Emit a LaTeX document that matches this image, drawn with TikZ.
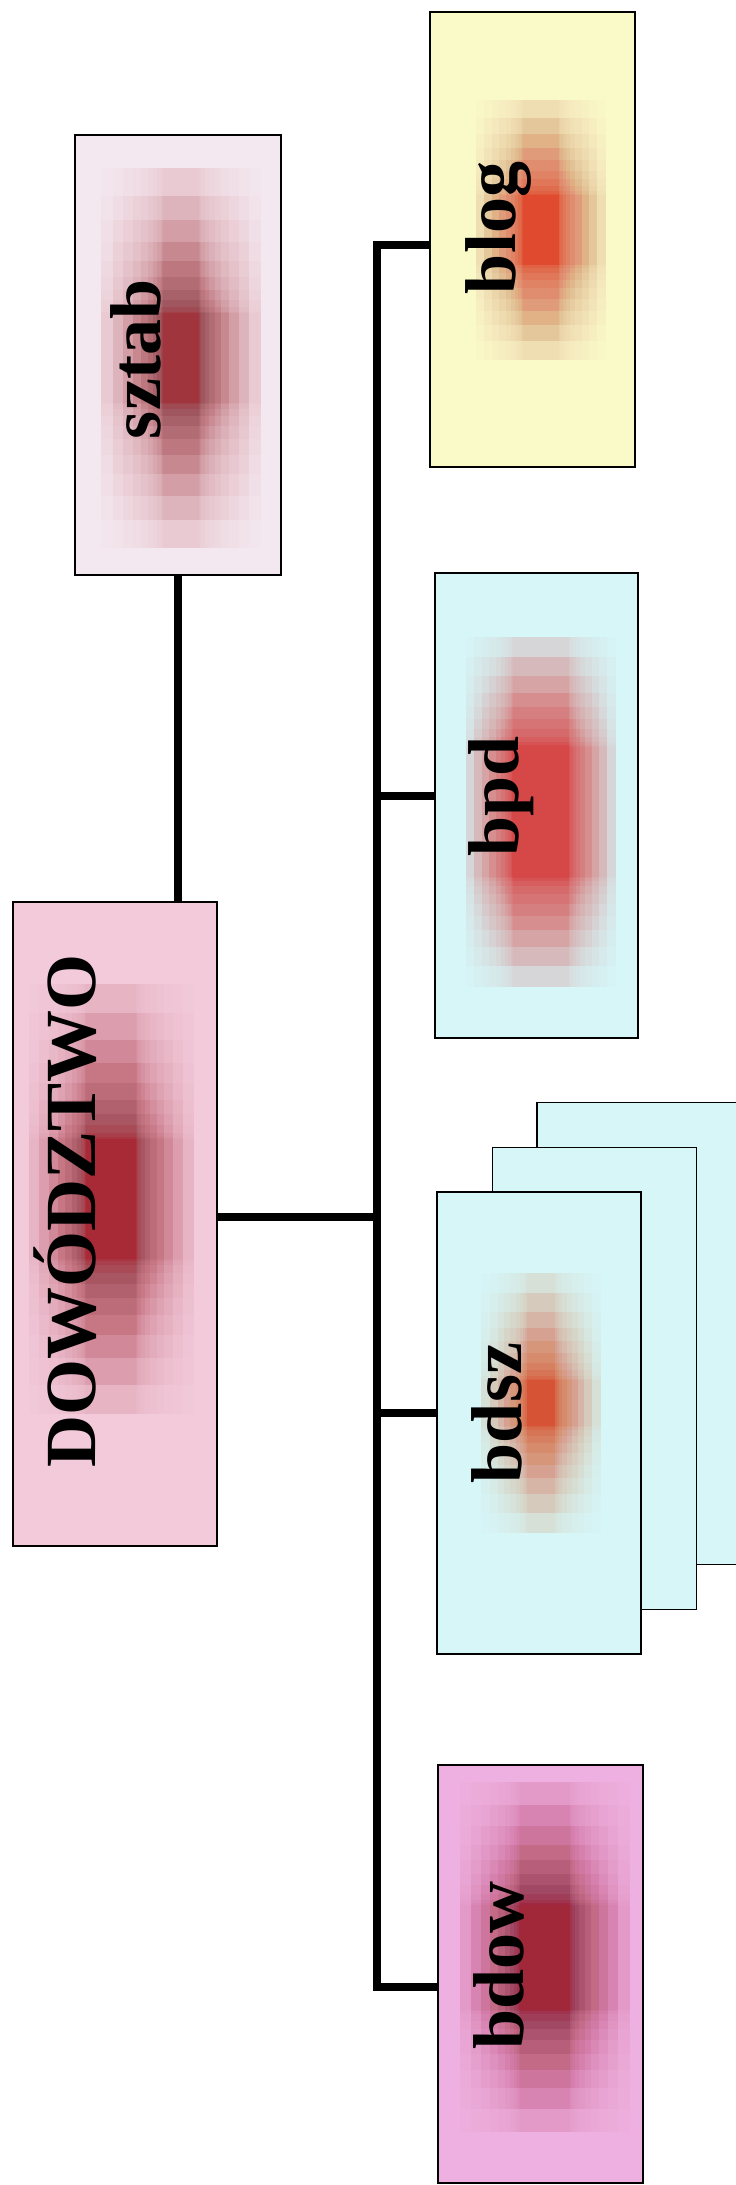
\documentclass[tikz,border=0pt]{standalone}
\usepackage{fontspec}
\setmainfont{Liberation Serif}
\usetikzlibrary{calc}

\definecolor{szOut}{HTML}{F4E8F0}
\definecolor{szIn}{HTML}{A02830}
\definecolor{blOut}{HTML}{FAFAC8}
\definecolor{blIn}{HTML}{E04030}
\definecolor{bpOut}{HTML}{D6F6F8}
\definecolor{bpIn}{HTML}{E84848}
\definecolor{dwOut}{HTML}{F2CADA}
\definecolor{dwIn}{HTML}{A82830}
\definecolor{bsIn}{HTML}{D85020}
\definecolor{bwOut}{HTML}{EEB0E0}
\definecolor{bwIn}{HTML}{A02830}

\tikzset{
  unit/.style={draw=black, line width=1.6pt, inner sep=0pt, outer sep=0pt},
  lbl/.style={rotate=90, anchor=base, inner sep=0pt, font=\fontsize{72}{80}\selectfont\bfseries},
  link/.style={line width=7.5pt, line join=miter},
}

% soft glow inside a box: node, colour, outer w/h, core w/h, offset x/y, opacity
\newcommand{\glow}[9]{%
  \foreach \i in {0,...,10}{
    \foreach \j in {0,...,10}{
      \pgfmathsetmacro{\gw}{#5+(#3-#5)*(\i/10)^2}
      \pgfmathsetmacro{\gh}{#6+(#4-#6)*(\j/10)^2}
      \fill[#2, fill opacity=#9] ($(#1.center)+(#7-\gw/2,#8-\gh/2)$) rectangle ($(#1.center)+(#7+\gw/2,#8+\gh/2)$);
    }}}

\begin{document}
\begin{tikzpicture}[x=1pt, y=-1pt]
  \clip (0,0) rectangle (736,2185);
  \fill[white] (0,0) rectangle (736,2185);

  % boxes
  \node[unit, fill=szOut, minimum width=206pt, minimum height=440pt] (sztab) at (178,355) {};
  \node[unit, fill=blOut, minimum width=205pt, minimum height=455pt] (blog) at (532.5,239.5) {};
  \node[unit, fill=bpOut, minimum width=203pt, minimum height=465pt] (bpd) at (536.5,805.5) {};
  \node[unit, fill=dwOut, minimum width=204pt, minimum height=644pt] (dow) at (115,1224) {};
  \node[unit, fill=bpOut, minimum width=204pt, minimum height=462pt] (bdsz3) at (639,1333.5) {};
  \node[unit, fill=bpOut, minimum width=204pt, minimum height=462pt] (bdsz2) at (594.5,1378.5) {};
  \node[unit, fill=bpOut, minimum width=204pt, minimum height=462pt] (bdsz) at (539,1423) {};
  \node[unit, fill=bwOut, minimum width=205pt, minimum height=418pt] (bdow) at (540.5,1974) {};

  \glow{sztab}{szIn}{160}{380}{36}{90}{3}{3}{0.013}
  \glow{blog}{blIn}{130}{260}{36}{70}{8}{-10}{0.013}
  \glow{bpd}{white}{180}{410}{110}{300}{4}{6}{0.012}
  \glow{bpd}{bpIn}{150}{350}{56}{130}{4}{6}{0.015}
  \glow{dow}{dwIn}{165}{430}{50}{120}{-4}{-25}{0.013}
  \glow{bdsz}{white}{160}{320}{80}{180}{2}{-20}{0.012}
  \glow{bdsz}{bsIn}{120}{260}{28}{46}{2}{-20}{0.013}
  \glow{bdow}{bwIn}{170}{350}{50}{105}{4}{-17}{0.013}

  % labels
  \node[lbl] (tsztab) at (160,359) {sztab};
  \node[lbl] (tblog) at (515,228) {blog};
  \node[lbl] (tbpd) at (518,796) {bpd};
  \node[lbl] (tdow) at (95,1211) {DOWÓDZTWO};
  \node[lbl] (tbdsz) at (521,1413) {bdsz};
  \node[lbl] (tbdow) at (523,1965) {bdow};

  % connectors
  \coordinate (top) at (377,245);
  \coordinate (bot) at (377,1987);
  \coordinate (jbpd) at (377,796);
  \coordinate (jdow) at (377,1217);
  \coordinate (jbdsz) at (377,1413);
  \draw[link] (sztab.south) -- (sztab.south |- dow.north);
  \draw[link] (blog.west |- top) -- (top) -- (bot) -- (bdow.west |- bot);
  \draw[link] (jbpd) -- (jbpd -| bpd.west);
  \draw[link] (jdow -| dow.east) -- (jdow);
  \draw[link] (jbdsz) -- (jbdsz -| bdsz.west);
\end{tikzpicture}
\end{document}
